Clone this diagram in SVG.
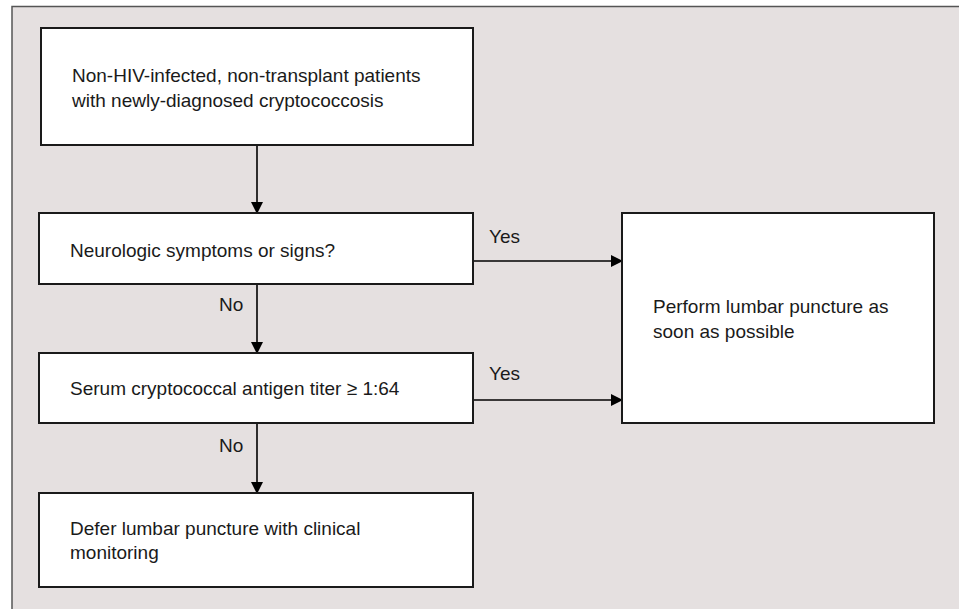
<svg xmlns="http://www.w3.org/2000/svg" width="959" height="609" viewBox="0 0 959 609">
<defs>
<marker id="ah" markerWidth="12" markerHeight="12" refX="11" refY="6" orient="auto" markerUnits="userSpaceOnUse">
<path d="M0,0 L12,6 L0,12 Z" fill="#000"/>
</marker>
<style>
.box{fill:#fff;stroke:#1a1a1a;stroke-width:2}
.t{font-family:"Liberation Sans",Arial,sans-serif;font-size:19px;fill:#1a1a1a}
.c{stroke:#000;stroke-width:1.6;fill:none;marker-end:url(#ah)}
</style>
</defs>
<rect x="0" y="0" width="959" height="609" fill="#fff"/>
<rect x="12" y="6.5" width="950" height="610" fill="#e5e0e0" stroke="#555" stroke-width="1.5"/>
<g id="connectors">
<line class="c" x1="257" y1="145" x2="257" y2="213"/>
<line class="c" x1="257" y1="284" x2="257" y2="353"/>
<line class="c" x1="257" y1="423" x2="257" y2="493"/>
<line class="c" x1="473" y1="261" x2="622" y2="261"/>
<line class="c" x1="473" y1="400" x2="622" y2="400"/>
<text class="t" x="219" y="311">No</text>
<text class="t" x="219" y="452">No</text>
<text class="t" x="489" y="243">Yes</text>
<text class="t" x="489" y="380">Yes</text>
</g>
<g id="n1">
<rect class="box" x="41" y="28" width="432" height="117"/>
<text class="t" x="72" y="82">Non-HIV-infected, non-transplant patients</text>
<text class="t" x="72" y="107">with newly-diagnosed cryptococcosis</text>
</g>
<g id="n2">
<rect class="box" x="39" y="213" width="434" height="71"/>
<text class="t" x="70" y="257">Neurologic symptoms or signs?</text>
</g>
<g id="n3">
<rect class="box" x="39" y="353" width="434" height="70"/>
<text class="t" x="70" y="395">Serum cryptococcal antigen titer ≥ 1:64</text>
</g>
<g id="n4">
<rect class="box" x="39" y="493" width="434" height="94"/>
<text class="t" x="70" y="535">Defer lumbar puncture with clinical</text>
<text class="t" x="70" y="559">monitoring</text>
</g>
<g id="n5">
<rect class="box" x="622" y="213" width="312" height="210"/>
<text class="t" x="653" y="313">Perform lumbar puncture as</text>
<text class="t" x="653" y="338">soon as possible</text>
</g>
</svg>
